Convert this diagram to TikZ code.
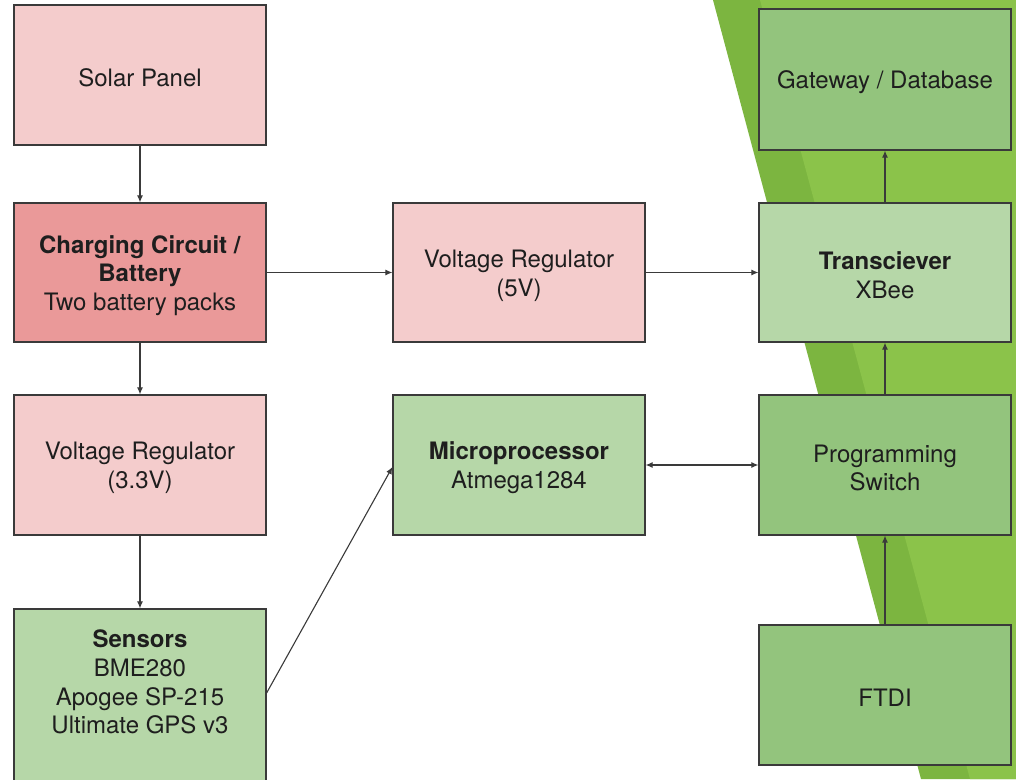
\documentclass[tikz,border=0pt]{standalone}
\usepackage{fontspec}
\setmainfont{TeX Gyre Heros}
\usetikzlibrary{arrows.meta}
\definecolor{pinkL}{HTML}{F4CCCC}
\definecolor{pinkD}{HTML}{EA9999}
\definecolor{greenL}{HTML}{B6D7A8}
\definecolor{greenM}{HTML}{93C47D}
\definecolor{bgDark}{RGB}{124,181,64}
\definecolor{bgBright}{RGB}{139,195,74}
\definecolor{edge}{HTML}{3A3A3A}
\definecolor{txt}{HTML}{1E1E1E}
\tikzset{
  blk/.style={draw=edge, line width=1.2pt, minimum width=252pt, minimum height=140pt,
    inner sep=0pt},
  txtonly/.style={align=center, text=txt, font=\fontsize{24}{28.7}\selectfont},
  lbl/.style={txtonly, yshift=-3pt},
  conn/.style={draw=edge, line width=1.1pt, -{Latex[length=7pt,width=6pt]}},
  conn2/.style={draw=edge, line width=1.1pt, {Latex[length=7pt,width=6pt]}-{Latex[length=7pt,width=6pt]}},
}
\begin{document}
\begin{tikzpicture}[x=1pt,y=-1pt]
\useasboundingbox (0,0) rectangle (1016,779);
\fill[white] (0,0) rectangle (1016,779);
% background decoration
\fill[bgDark] (713,0) -- (1016,0) -- (1016,779) -- (921,779) -- cycle;
\fill[bgBright] (760,0) -- (1016,0) -- (1016,779) -- (970,779) -- cycle;
% boxes
\node[blk, fill=pinkL, label={[lbl]center:Solar Panel}] (solar) at (140,75) {};
\node[blk, fill=pinkD, minimum height=139pt, label={[lbl]center:{\textbf{Charging Circuit /}\\\textbf{Battery}\\Two battery packs}}] (charge) at (140,272.5) {};
\node[blk, fill=pinkL, label={[lbl]center:{Voltage Regulator\\(3.3V)}}] (vr33) at (140,465) {};
\node[blk, fill=greenL, minimum height=182pt] (sens) at (140,700) {};
\node[txtonly] (senstxt) at (140,682) {\textbf{Sensors}\\BME280\\Apogee SP-215\\Ultimate GPS v3};
\node[blk, fill=pinkL, minimum height=139pt, label={[lbl]center:{Voltage Regulator\\(5V)}}] (vr5) at (519,272.5) {};
\node[blk, fill=greenL, label={[lbl]center:{\textbf{Microprocessor}\\Atmega1284}}] (mcu) at (519,465) {};
\node[blk, fill=greenM, minimum height=141pt, label={[lbl]center:Gateway / Database}] (gw) at (885,79.5) {};
\node[blk, fill=greenL, minimum height=139pt, label={[lbl]center:{\textbf{Transciever}\\XBee}}] (xb) at (885,272.5) {};
\node[blk, fill=greenM, label={[lbl]center:{Programming\\Switch}}] (prog) at (885,465) {};
\node[blk, fill=greenM, label={[lbl]center:FTDI}] (ftdi) at (885,695) {};
% connectors
\draw[conn] (solar) -- (charge);
\draw[conn] (charge) -- (vr33);
\draw[conn] (vr33) -- (sens);
\draw[conn] (charge) -- (vr5);
\draw[conn] (vr5) -- (xb);
\draw[conn] (xb) -- (gw);
\draw[conn] (prog) -- (xb);
\draw[conn] (ftdi) -- (prog);
\draw[conn2] (mcu) -- (prog);
\draw[conn] ([yshift=7pt]sens.east) -- ([yshift=-2pt]mcu.west);
\end{tikzpicture}
\end{document}
